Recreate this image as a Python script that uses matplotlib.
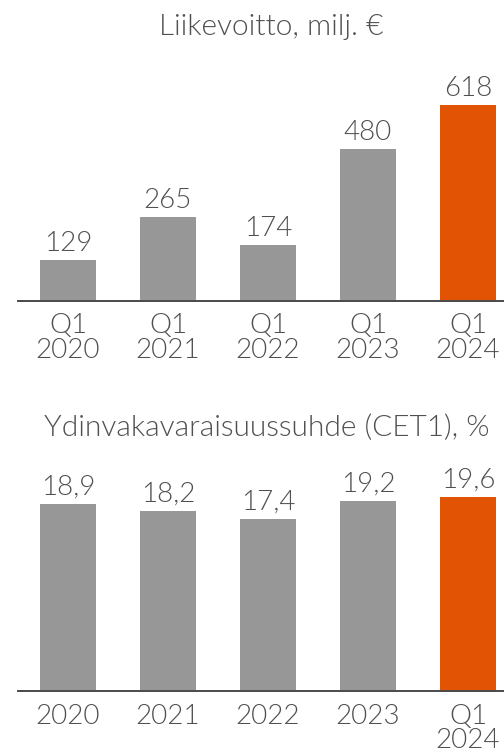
import matplotlib
matplotlib.use("Agg")
import matplotlib.pyplot as plt

# Liikevoitto (operating profit), milj. €
profit_labels = ["Q1\n2020", "Q1\n2021", "Q1\n2022", "Q1\n2023", "Q1\n2024"]
profit_values = [129, 265, 174, 480, 618]

# Ydinvakavaraisuussuhde (CET1), %
cet1_labels = ["2020", "2021", "2022", "2023", "Q1\n2024"]
cet1_values = [18.9, 18.2, 17.4, 19.2, 19.6]
cet1_texts = ["18,9", "18,2", "17,4", "19,2", "19,6"]

GRAY = "#979797"
ORANGE = "#E25303"
TEXT = "#505050"
FONT = "Lato"
FS = 20        # numbers and tick labels
FS_TITLE = 21.5

W, H = 504, 753


def main():
    plt.rcParams["font.family"] = [FONT, "DejaVu Sans"]
    plt.rcParams["font.weight"] = 300
    fig = plt.figure(figsize=(W / 100, H / 100), dpi=100)

    def px_axes(left, top, right, bottom):
        return fig.add_axes([left / W, 1 - bottom / H, (right - left) / W, (bottom - top) / H])

    def draw(ax, values, labels, texts, ymax):
        colors = [GRAY] * (len(values) - 1) + [ORANGE]
        x = range(len(values))
        ax.bar(x, values, width=0.56, color=colors)
        for xi, v, t in zip(x, values, texts):
            ax.annotate(t, (xi, v), xytext=(0, 6.5), textcoords="offset points",
                        ha="center", va="baseline", fontsize=FS, color=TEXT)
        ax.set_xlim(-0.5, 4.36)
        ax.set_ylim(0, ymax)
        ax.set_xticks(list(x))
        ax.set_xticklabels(labels, fontsize=FS, color=TEXT, linespacing=1.0)
        ax.tick_params(axis="x", length=0, pad=9)
        ax.set_yticks([])
        for s in ["top", "right", "left"]:
            ax.spines[s].set_visible(False)
        ax.spines["bottom"].set_color("#4a4a4a")
        ax.spines["bottom"].set_linewidth(1.4)
        ax.patch.set_alpha(0)

    ax1 = px_axes(18, 98, 504, 300.5)
    draw(ax1, profit_values, profit_labels, [str(v) for v in profit_values], 640)

    ax2 = px_axes(18, 489, 504, 691)
    draw(ax2, cet1_values, cet1_labels, cet1_texts, 20.4)

    fig.text(271 / W, 1 - 35 / H, "Liikevoitto, milj. €", ha="center", va="baseline",
             fontsize=FS_TITLE, color=TEXT)
    fig.text(267 / W, 1 - 436 / H, "Ydinvakavaraisuussuhde (CET1), %", ha="center",
             va="baseline", fontsize=FS_TITLE, color=TEXT)

    fig.savefig("out.png", dpi=100, facecolor="white")


if __name__ == "__main__":
    main()
